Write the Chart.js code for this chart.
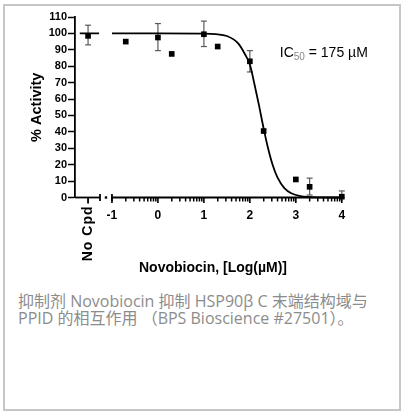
<!DOCTYPE html>
<html>
<head>
<meta charset="utf-8">
<script src="https://cdn.jsdelivr.net/npm/chart.js@4"></script>
<style>
  body { margin: 0; background: #fff; }
  #frame {
    position: absolute; left: 3px; top: 4px; width: 398px; height: 407px;
    box-sizing: border-box; border: 2px solid #c6c6c6;
  }
  #wrap { position: absolute; left: 0; top: 0; width: 406px; height: 285px; }
  #caption {
    position: absolute; left: 18px; top: 293px; width: 384px;
    font-family: "Open Sans", "Noto Sans CJK SC", sans-serif;
    font-size: 16px; line-height: 17px; color: #8c8c8c;
  }
</style>
</head>
<body>
<div id="frame"></div>
<div id="wrap"><canvas id="chart"></canvas></div>
<div id="caption">抑制剂 Novobiocin 抑制 HSP90β C 末端结构域与<br>PPID 的相互作用 （BPS Bioscience #27501）。</div>
<script>
// measured points, x = log10(µM)
const doseLog = [-0.7, 0, 0.3, 1, 1.3, 2, 2.3, 3, 3.3, 4];
const activity = [95, 97.5, 87.5, 99.5, 92, 83, 40.5, 11, 6.5, 0.5];
const errHigh = [null, 106, null, 107.5, null, 89.5, null, null, 11.8, 4];
const errLow = [null, 89.5, null, 92, null, 76.5, null, null, 1.5, 0];

// "No Cpd" control
const noCpdX = -1.52;
const noCpdY = 98.5;
const noCpdErr = [93, 105];
const noCpdLineX = [-1.7, -1.28];
const noCpdLineY = [100, 100];

// fitted curve
const curveX = [-1, 0, 1, 1.25, 1.5, 1.75, 1.9, 2.0, 2.1, 2.2, 2.3, 2.4, 2.5, 2.6, 2.75, 2.9, 3.1, 3.5, 4];
const curveY = [100, 100, 99.9, 99.6, 98.4, 93.8, 87, 81, 69, 56, 42, 29.6, 19.5, 12.2, 5.7, 2.6, 0.9, 0.1, 0];

const xTicks = [-1, 0, 1, 2, 3, 4];
const breakLeft = -1.26;
const breakDot = -1.13;

const fontFamily = "'Liberation Sans', Arial, sans-serif";

const drawAxisX = {
  id: "drawAxisX",
  beforeDatasetsDraw(chart) {
    const { ctx, scales: { x, y } } = chart;
    const y0 = y.getPixelForValue(0);
    const px = (v) => x.getPixelForValue(v);
    const seg = (x1, y1, x2, y2) => {
      ctx.beginPath();
      ctx.moveTo(x1, y1);
      ctx.lineTo(x2, y2);
      ctx.stroke();
    };
    ctx.save();
    ctx.strokeStyle = "#000";
    ctx.lineWidth = 1.8;
    // broken axis
    seg(chart.chartArea.left, y0, px(breakLeft), y0);
    seg(px(-1), y0, px(4), y0);
    seg(px(breakLeft), y0 - 3.5, px(breakLeft), y0 + 3.5);
    seg(px(-1), y0 - 3.5, px(-1), y0 + 3.5);
    ctx.fillStyle = "#000";
    ctx.fillRect(px(breakDot) - 1.2, y0 - 1.2, 2.4, 2.4);
    // No Cpd tick
    seg(px(noCpdX), y0, px(noCpdX), y0 + 6);
    // major + minor ticks
    ctx.lineWidth = 1.6;
    xTicks.forEach((t) => seg(px(t), y0, px(t), y0 + 5.5));
    ctx.lineWidth = 1.5;
    for (let k = -1; k < 4; k++) {
      for (let m = 2; m <= 9; m++) {
        const v = k + Math.log10(m);
        seg(px(v), y0, px(v), y0 + 4);
      }
    }
    // error bars
    ctx.strokeStyle = "#5a5a5a";
    ctx.lineWidth = 1.2;
    const bar = (xv, lo, hi) => {
      const cx = px(xv);
      seg(cx, y.getPixelForValue(lo), cx, y.getPixelForValue(hi));
      seg(cx - 3, y.getPixelForValue(hi), cx + 3, y.getPixelForValue(hi));
      seg(cx - 3, y.getPixelForValue(lo), cx + 3, y.getPixelForValue(lo));
    };
    bar(noCpdX, noCpdErr[0], noCpdErr[1]);
    doseLog.forEach((d, i) => {
      if (errHigh[i] !== null) bar(d, errLow[i], errHigh[i]);
    });
    // No Cpd label
    ctx.save();
    ctx.translate(px(noCpdX), y0 + 8);
    ctx.rotate(-Math.PI / 2);
    ctx.font = "bold 14px " + fontFamily;
    ctx.letterSpacing = "1px";
    ctx.textAlign = "right";
    ctx.textBaseline = "middle";
    ctx.fillText("No Cpd", 0, 0);
    ctx.restore();
    // IC50 label
    let tx = px(2.65);
    const ty = y.getPixelForValue(88);
    ctx.textBaseline = "middle";
    ctx.textAlign = "left";
    ctx.fillStyle = "#000";
    ctx.font = "14px " + fontFamily;
    ctx.fillText("IC", tx, ty);
    tx += ctx.measureText("IC").width;
    ctx.fillStyle = "#888";
    ctx.font = "10px " + fontFamily;
    ctx.fillText("50", tx, ty + 4);
    tx += ctx.measureText("50").width;
    ctx.fillStyle = "#000";
    ctx.font = "14px " + fontFamily;
    ctx.fillText(" = 175 µM", tx, ty);
    ctx.restore();
  },
};

new Chart(document.getElementById("chart"), {
  type: "scatter",
  data: {
    datasets: [
      {
        data: doseLog.map((d, i) => ({ x: d, y: activity[i] })).concat([{ x: noCpdX, y: noCpdY }]),
        pointStyle: "rect",
        pointRadius: 4,
        backgroundColor: "#000",
        borderColor: "#000",
        borderWidth: 0,
        clip: false,
      },
      {
        data: curveX.map((c, i) => ({ x: c, y: curveY[i] })),
        showLine: true,
        cubicInterpolationMode: "monotone",
        pointRadius: 0,
        borderColor: "#000",
        borderWidth: 1.8,
        clip: false,
      },
      {
        data: noCpdLineX.map((c, i) => ({ x: c, y: noCpdLineY[i] })),
        showLine: true,
        pointRadius: 0,
        borderColor: "#000",
        borderWidth: 1.8,
      },
    ],
  },
  options: {
    responsive: true,
    maintainAspectRatio: false,
    animation: false,
    layout: { padding: { top: 17, right: 55, left: 0, bottom: 0 } },
    scales: {
      x: {
        type: "linear",
        min: -1.804,
        max: 4.2,
        afterBuildTicks: (scale) => {
          scale.ticks = xTicks.map((v) => ({ value: v }));
        },
        afterFit: (scale) => {
          scale.height = 87.5;
        },
        grid: { display: false, drawTicks: false },
        border: { display: false },
        ticks: {
          autoSkip: false,
          maxRotation: 0,
          padding: 11,
          color: "#000",
          font: { family: fontFamily, size: 12, weight: "bold" },
        },
        title: {
          display: true,
          text: "Novobiocin, [Log(µM)]",
          color: "#000",
          font: { family: fontFamily, size: 14, weight: "bold" },
          padding: { top: 0, bottom: 8.6 },
        },
      },
      y: {
        min: 0,
        max: 110,
        afterFit: (scale) => {
          scale.width = 75;
        },
        grid: { drawOnChartArea: false, tickLength: 7, tickColor: "#000", tickWidth: 1.5 },
        border: { color: "#000", width: 1.8 },
        ticks: {
          stepSize: 10,
          padding: 1,
          color: "#000",
          font: { family: fontFamily, size: 11, weight: "bold" },
        },
        title: {
          display: true,
          text: "% Activity",
          color: "#000",
          font: { family: fontFamily, size: 14.5, weight: "bold" },
          padding: { top: 28, bottom: 0 },
        },
      },
    },
    plugins: {
      legend: { display: false },
      tooltip: { enabled: false },
    },
  },
  plugins: [drawAxisX],
});
</script>
</body>
</html>
